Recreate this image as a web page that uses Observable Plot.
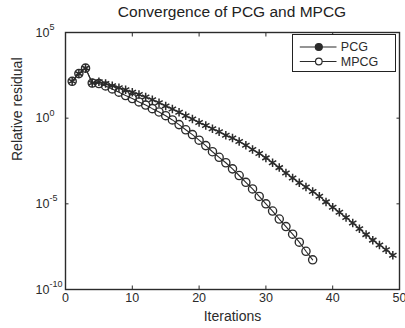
<!DOCTYPE html>
<html><head><meta charset="utf-8">
<script src="https://cdn.jsdelivr.net/npm/d3@7"></script>
<script src="https://cdn.jsdelivr.net/npm/@observablehq/plot@0.6"></script>
<style>
body{margin:0;background:#fff;font-family:"Liberation Sans",Arial,sans-serif;}
#wrap{position:relative;width:405px;height:328px;overflow:hidden;background:#fff}
#title{height:24px;line-height:24px;font-size:15.5px;text-align:center;padding-left:65px;padding-right:6px;color:#222;white-space:nowrap}
#legend{position:absolute;left:292px;top:34px;width:102px;height:36px;border:1.3px solid #222;background:#fff}
#legend svg{display:block}
</style></head><body>
<div id="wrap"><div id="title">Convergence of PCG and MPCG</div><div id="chart"></div><div id="legend"></div></div>
<script>
// Data
const pcgIterations = [1,2,3,4,5,6,7,8,9,10,11,12,13,14,15,16,17,18,19,20,21,22,23,24,25,26,27,28,29,30,31,32,33,34,35,36,37,38,39,40,41,42,43,44,45,46,47,48,49];
const pcgResidual = [141,398,832,112,132,105,79,60,45,33,24,17,12,7.9,5.2,3.4,2.2,1.4,0.89,0.56,0.37,0.24,0.16,0.10,0.069,0.044,0.026,0.015,8.7e-3,4.8e-3,2.5e-3,1.3e-3,6.3e-4,3.2e-4,1.7e-4,9.5e-5,5.2e-5,2.8e-5,1.3e-5,6.3e-6,3.2e-6,1.6e-6,7.6e-7,3.5e-7,1.6e-7,7.6e-8,4.0e-8,2.1e-8,1.0e-8];
const mpcgIterations = [1,2,3,4,5,6,7,8,9,10,11,12,13,14,15,16,17,18,19,20,21,22,23,24,25,26,27,28,29,30,31,32,33,34,35,36,37];
const mpcgResidual = [141,398,832,112,105,76,51,33,21,14,8.9,5.8,3.6,2.3,1.4,0.79,0.42,0.21,0.11,0.052,0.025,0.011,5.2e-3,2.5e-3,1.1e-3,4.5e-4,1.8e-4,7.4e-5,2.7e-5,1.0e-5,3.8e-6,1.3e-6,4.7e-7,1.7e-7,5.8e-8,1.7e-8,5.4e-9];
const xTicks = [0,10,20,30,40,50];
const yTicks = [1e5,1,1e-5,1e-10];
const yTickBase = ["10","10","10","10"];
const yTickExponents = ["5","0","-5","-10"];
const seriesNames = ["PCG","MPCG"];
const titleText = "Convergence of PCG and MPCG";
const xLabel = "Iterations";
const yLabel = "Relative residual";

const pcg = pcgIterations.map((it,i)=>({iter:it,res:pcgResidual[i]}));
const mpcg = mpcgIterations.map((it,i)=>({iter:it,res:mpcgResidual[i]}));
const ink = "#2b2b2b";

document.getElementById("title").textContent = titleText;

const chart = Plot.plot({
  width:405, height:304, marginTop:8, marginLeft:65, marginRight:6, marginBottom:39,
  style:{fontFamily:"'Liberation Sans', Arial, sans-serif", fontSize:"12px", color:ink, background:"white", overflow:"visible"},
  x:{domain:[0,50]},
  y:{type:"log", domain:[1e-10,1e5]},
  marks:[
    Plot.line(pcg,{x:"iter",y:"res",stroke:ink,strokeWidth:1.1}),
    Plot.dot(pcg,{x:"iter",y:"res",symbol:"asterisk",r:4,stroke:ink,strokeWidth:1.5}),
    Plot.line(mpcg,{x:"iter",y:"res",stroke:ink,strokeWidth:1.1}),
    Plot.dot(mpcg,{x:"iter",y:"res",symbol:"circle",r:4.1,stroke:ink,fill:"none",strokeWidth:1.35}),
    Plot.axisX(xTicks,{anchor:"bottom",tickSize:-3.5,text:null,label:null,stroke:ink}),
    Plot.axisX(xTicks,{anchor:"top",tickSize:-3.5,text:null,label:null,stroke:ink}),
    Plot.axisX(xTicks,{anchor:"bottom",tickSize:0,tickPadding:4,fontSize:12.5,label:null,fill:ink}),
    Plot.axisY(yTicks,{anchor:"left",tickSize:-3.5,text:null,label:null,stroke:ink}),
    Plot.axisY(yTicks,{anchor:"right",tickSize:-3.5,text:null,label:null,stroke:ink}),
    Plot.text(yTicks,{y:d=>d,frameAnchor:"left",dx:-30,textAnchor:"start",lineAnchor:"middle",text:(d,i)=>yTickBase[i],fontSize:12.5,fill:ink}),
    Plot.text(yTicks,{y:d=>d,frameAnchor:"left",dx:-16,dy:-5.5,textAnchor:"start",lineAnchor:"middle",text:(d,i)=>yTickExponents[i],fontSize:9,fill:ink}),
    Plot.text([xLabel],{frameAnchor:"bottom",dy:27,lineAnchor:"middle",text:d=>d,fontSize:14,fill:ink}),
    Plot.text([yLabel],{frameAnchor:"left",dx:-48,rotate:-90,lineAnchor:"middle",text:d=>d,fontSize:14,fill:ink}),
    Plot.frame({stroke:ink,strokeWidth:1.4})
  ]
});
document.getElementById("chart").appendChild(chart);

// Legend
const lg = d3.select("#legend").append("svg").attr("width",102).attr("height",36);
const rows = [{name:seriesNames[0],filled:true,y:12},{name:seriesNames[1],filled:false,y:26.5}];
rows.forEach(r=>{
  lg.append("line").attr("x1",6.8).attr("x2",43.5).attr("y1",r.y).attr("y2",r.y).attr("stroke",ink).attr("stroke-width",1.1);
  lg.append("circle").attr("cx",25.8).attr("cy",r.y).attr("r",r.filled?3.5:3.3).attr("fill",r.filled?ink:"white").attr("stroke",ink).attr("stroke-width",1.2);
  lg.append("text").attr("x",47.8).attr("y",r.y).attr("dy","0.35em").attr("font-size",12.5).attr("fill",ink).attr("font-family","'Liberation Sans', Arial, sans-serif").text(r.name);
});
</script>
</body></html>
